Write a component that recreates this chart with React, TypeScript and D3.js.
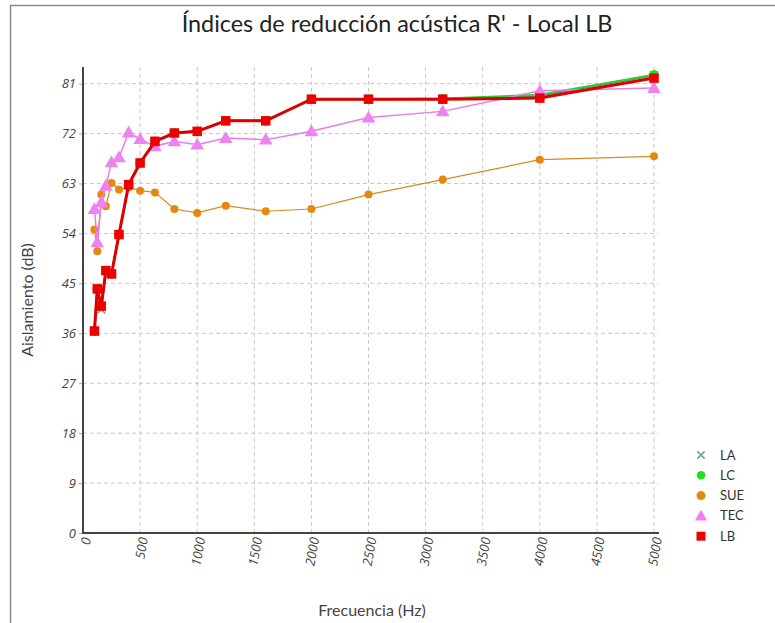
import React, { useEffect, useRef } from "react";
import * as d3 from "d3";

const freqs = [100, 125, 160, 200, 250, 315, 400, 500, 630, 800, 1000, 1250, 1600, 2000, 2500, 3150, 4000, 5000];
const LB = [36.4, 44.0, 40.9, 47.3, 46.7, 53.8, 62.8, 66.7, 70.6, 72.1, 72.4, 74.3, 74.3, 78.2, 78.2, 78.2, 78.4, 82.0];
const LA = [36.4, 44.0, 40.3, 47.3, 46.7, 53.8, 62.8, 66.7, 70.6, 72.1, 72.4, 74.3, 74.3, 78.2, 78.2, 78.2, 78.8, 82.5];
const LC = [36.4, 44.0, 40.9, 47.3, 46.7, 53.8, 62.8, 66.7, 70.6, 72.1, 72.4, 74.3, 74.3, 78.2, 78.2, 78.3, 79.0, 82.6];
const SUE = [54.7, 50.8, 61.0, 58.9, 63.1, 61.9, 62.3, 61.7, 61.4, 58.4, 57.7, 59.0, 58.0, 58.4, 61.0, 63.7, 67.3, 67.9];
const TEC = [58.4, 52.4, 59.6, 62.6, 66.8, 67.7, 72.2, 71.0, 69.7, 70.6, 70.0, 71.2, 70.9, 72.4, 74.9, 76.0, 79.7, 80.2];
const yTicks = [0, 9, 18, 27, 36, 45, 54, 63, 72, 81];
const xTicks = [0, 500, 1000, 1500, 2000, 2500, 3000, 3500, 4000, 4500, 5000];

const FONT = "'Open Sans', 'Noto Sans', sans-serif";
const TFONT = "Lato, 'Open Sans', sans-serif";

type Series = { name: string; values: number[]; color: string; lineColor: string; width: number; marker: string };
const seriesList: Series[] = [
  { name: "LA", values: LA, color: "#6f9ea0", lineColor: "#4f7f6f", width: 2, marker: "x" },
  { name: "LC", values: LC, color: "#22dd22", lineColor: "#33cc33", width: 2, marker: "diamond" },
  { name: "SUE", values: SUE, color: "#e8870f", lineColor: "#d98a1a", width: 1.2, marker: "circle" },
  { name: "TEC", values: TEC, color: "#ee82ee", lineColor: "#e47fe4", width: 1.5, marker: "triangle" },
  { name: "LB", values: LB, color: "#ee0000", lineColor: "#dd0000", width: 3, marker: "square" },
];

export default function App() {
  const ref = useRef<SVGSVGElement>(null);
  useEffect(() => {
    const svg = d3.select(ref.current!);
    svg.selectAll("*").remove();
    const W = 775, H = 623;
    const x = d3.scaleLinear().domain([0, 5000]).range([83, 654]);
    const y = d3.scaleLinear().domain([0, 84]).range([533, 67]);

    svg.append("rect").attr("width", W).attr("height", H).attr("fill", "#fff");
    svg.append("path").attr("d", `M10.5,${H} V5.5 H${W}`).attr("fill", "none").attr("stroke", "#8a8a8a").attr("stroke-width", 1.5);

    svg.append("text").attr("x", 397).attr("y", 32).attr("text-anchor", "middle")
      .attr("font-family", TFONT).attr("font-size", 23.4).attr("fill", "#222")
      .text("Índices de reducción acústica R' - Local LB");

    const grid = svg.append("g").attr("stroke", "#c8c8c8").attr("stroke-dasharray", "4,3").attr("stroke-width", 1);
    yTicks.filter(t => t > 0).forEach(t => {
      grid.append("line").attr("x1", 83).attr("x2", 658).attr("y1", y(t)).attr("y2", y(t));
    });
    xTicks.filter(t => t > 0).forEach(t => {
      grid.append("line").attr("x1", x(t)).attr("x2", x(t)).attr("y1", 67).attr("y2", 533);
    });

    const yAxis = svg.append("g").attr("transform", "translate(83,0)")
      .call(d3.axisLeft(y).tickValues(yTicks).tickSize(4).tickPadding(3));
    yAxis.select(".domain").remove();
    yAxis.selectAll("line").attr("stroke", "#aaa");
    yAxis.selectAll("text").attr("font-family", FONT).attr("font-size", 13).attr("font-style", "italic").attr("fill", "#444");
    svg.append("line").attr("x1", 83).attr("x2", 83).attr("y1", 67).attr("y2", 534).attr("stroke", "#444").attr("stroke-width", 2);

    const xAxis = svg.append("g").attr("transform", "translate(0,533)")
      .call(d3.axisBottom(x).tickValues(xTicks).tickSize(0).tickFormat(d3.format("d")));
    xAxis.select(".domain").remove();
    xAxis.selectAll("text")
      .attr("font-family", FONT).attr("font-size", 13).attr("font-style", "italic").attr("fill", "#444")
      .attr("text-anchor", "end").attr("dy", "0.35em")
      .attr("transform", "translate(0,4) rotate(-80)");
    svg.append("line").attr("x1", 82).attr("x2", 659).attr("y1", 533).attr("y2", 533).attr("stroke", "#444").attr("stroke-width", 2);

    svg.append("text").attr("transform", "translate(33,300) rotate(-90)").attr("text-anchor", "middle")
      .attr("font-family", TFONT).attr("font-size", 16).attr("fill", "#444").text("Aislamiento (dB)");
    svg.append("text").attr("x", 372).attr("y", 616).attr("text-anchor", "middle")
      .attr("font-family", TFONT).attr("font-size", 16).attr("fill", "#444").text("Frecuencia (Hz)");

    const drawMarker = (g: any, m: string, cx: number, cy: number, color: string, s: number) => {
      if (m === "square") g.append("rect").attr("x", cx - s / 2).attr("y", cy - s / 2).attr("width", s).attr("height", s).attr("fill", color);
      else if (m === "circle") g.append("circle").attr("cx", cx).attr("cy", cy).attr("r", s / 2).attr("fill", color);
      else if (m === "triangle") g.append("path").attr("d", d3.symbol(d3.symbolTriangle, s * s * 0.8)()).attr("transform", `translate(${cx},${cy + 1})`).attr("fill", color);
      else if (m === "diamond") g.append("path").attr("d", d3.symbol(d3.symbolCircle, s * s * 0.7)()).attr("transform", `translate(${cx},${cy})`).attr("fill", color);
      else if (m === "x") g.append("path").attr("d", `M${cx - s / 2.5},${cy - s / 2.5}L${cx + s / 2.5},${cy + s / 2.5}M${cx - s / 2.5},${cy + s / 2.5}L${cx + s / 2.5},${cy - s / 2.5}`).attr("stroke", color).attr("stroke-width", 1.5);
    };

    const line = d3.line<number>().x((_, i) => x(freqs[i])).y(d => y(d));
    seriesList.forEach(s => {
      const g = svg.append("g");
      g.append("path").attr("d", line(s.values)).attr("fill", "none").attr("stroke", s.lineColor).attr("stroke-width", s.width);
      const size = s.marker === "square" ? 9.5 : s.marker === "circle" ? 8 : 10;
      s.values.forEach((v, i) => drawMarker(g, s.marker, x(freqs[i]), y(v), s.color, size));
    });

    const lg = svg.append("g");
    seriesList.forEach((s, i) => {
      const cy = 455 + i * 20.3;
      drawMarker(lg, s.marker, 701, cy, s.color, 9);
      lg.append("text").attr("x", 720).attr("y", cy).attr("dy", "0.35em")
        .attr("font-family", TFONT).attr("font-size", 13).attr("fill", "#333").text(s.name);
    });
  }, []);
  return (
    <div style={{ position: "absolute", left: 0, top: 0 }}>
      <svg ref={ref} width={775} height={623} style={{ display: "block" }} />
    </div>
  );
}
